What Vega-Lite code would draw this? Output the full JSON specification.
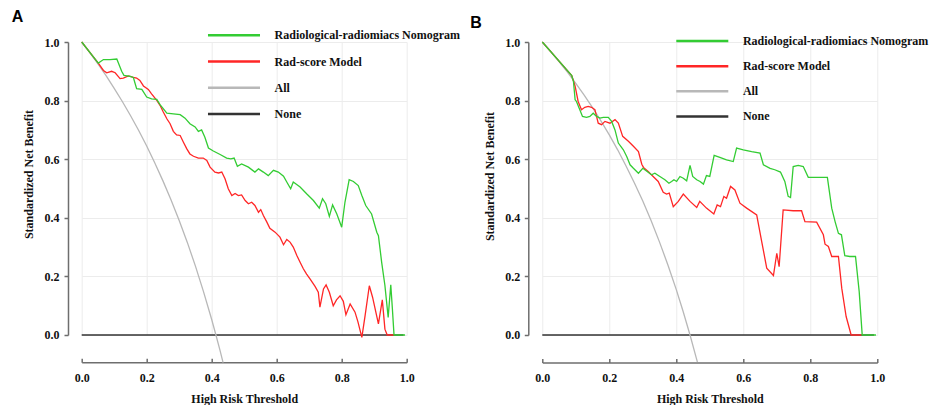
{
  "$schema": "https://vega.github.io/schema/vega-lite/v6.json",
  "padding": {"left": 11.7, "top": 9, "right": 0, "bottom": 0},
  "autosize": {"type": "pad"},
  "background": "white",
  "bounds": "flush",
  "spacing": 135.6,
  "datasets": {
    "a": [
      {"t": 0, "nb": 0, "model": "None"},
      {"t": 0.99, "nb": 0, "model": "None"},
      {"t": 0, "nb": 1, "model": "All"},
      {"t": 0.025, "nb": 0.964, "model": "All"},
      {"t": 0.05, "nb": 0.925, "model": "All"},
      {"t": 0.075, "nb": 0.885, "model": "All"},
      {"t": 0.1, "nb": 0.842, "model": "All"},
      {"t": 0.125, "nb": 0.797, "model": "All"},
      {"t": 0.15, "nb": 0.749, "model": "All"},
      {"t": 0.175, "nb": 0.699, "model": "All"},
      {"t": 0.2, "nb": 0.645, "model": "All"},
      {"t": 0.225, "nb": 0.587, "model": "All"},
      {"t": 0.25, "nb": 0.526, "model": "All"},
      {"t": 0.275, "nb": 0.461, "model": "All"},
      {"t": 0.3, "nb": 0.391, "model": "All"},
      {"t": 0.325, "nb": 0.316, "model": "All"},
      {"t": 0.35, "nb": 0.235, "model": "All"},
      {"t": 0.375, "nb": 0.147, "model": "All"},
      {"t": 0.4, "nb": 0.053, "model": "All"},
      {"t": 0.413, "nb": 0, "model": "All"},
      {"t": 0.425, "nb": -0.05, "model": "All"},
      {"t": 0.435, "nb": -0.094, "model": "All"},
      {"t": 0, "nb": 1, "model": "Rad-score Model"},
      {"t": 0.051, "nb": 0.928, "model": "Rad-score Model"},
      {"t": 0.067, "nb": 0.903, "model": "Rad-score Model"},
      {"t": 0.077, "nb": 0.895, "model": "Rad-score Model"},
      {"t": 0.092, "nb": 0.9, "model": "Rad-score Model"},
      {"t": 0.103, "nb": 0.895, "model": "Rad-score Model"},
      {"t": 0.118, "nb": 0.875, "model": "Rad-score Model"},
      {"t": 0.128, "nb": 0.877, "model": "Rad-score Model"},
      {"t": 0.144, "nb": 0.884, "model": "Rad-score Model"},
      {"t": 0.159, "nb": 0.879, "model": "Rad-score Model"},
      {"t": 0.169, "nb": 0.877, "model": "Rad-score Model"},
      {"t": 0.179, "nb": 0.869, "model": "Rad-score Model"},
      {"t": 0.19, "nb": 0.85, "model": "Rad-score Model"},
      {"t": 0.205, "nb": 0.838, "model": "Rad-score Model"},
      {"t": 0.215, "nb": 0.823, "model": "Rad-score Model"},
      {"t": 0.231, "nb": 0.801, "model": "Rad-score Model"},
      {"t": 0.241, "nb": 0.784, "model": "Rad-score Model"},
      {"t": 0.251, "nb": 0.761, "model": "Rad-score Model"},
      {"t": 0.262, "nb": 0.738, "model": "Rad-score Model"},
      {"t": 0.272, "nb": 0.721, "model": "Rad-score Model"},
      {"t": 0.282, "nb": 0.695, "model": "Rad-score Model"},
      {"t": 0.292, "nb": 0.683, "model": "Rad-score Model"},
      {"t": 0.303, "nb": 0.681, "model": "Rad-score Model"},
      {"t": 0.313, "nb": 0.658, "model": "Rad-score Model"},
      {"t": 0.323, "nb": 0.636, "model": "Rad-score Model"},
      {"t": 0.333, "nb": 0.618, "model": "Rad-score Model"},
      {"t": 0.344, "nb": 0.61, "model": "Rad-score Model"},
      {"t": 0.359, "nb": 0.604, "model": "Rad-score Model"},
      {"t": 0.374, "nb": 0.604, "model": "Rad-score Model"},
      {"t": 0.385, "nb": 0.596, "model": "Rad-score Model"},
      {"t": 0.395, "nb": 0.573, "model": "Rad-score Model"},
      {"t": 0.41, "nb": 0.556, "model": "Rad-score Model"},
      {"t": 0.421, "nb": 0.553, "model": "Rad-score Model"},
      {"t": 0.431, "nb": 0.556, "model": "Rad-score Model"},
      {"t": 0.441, "nb": 0.533, "model": "Rad-score Model"},
      {"t": 0.451, "nb": 0.499, "model": "Rad-score Model"},
      {"t": 0.462, "nb": 0.476, "model": "Rad-score Model"},
      {"t": 0.472, "nb": 0.483, "model": "Rad-score Model"},
      {"t": 0.482, "nb": 0.476, "model": "Rad-score Model"},
      {"t": 0.492, "nb": 0.478, "model": "Rad-score Model"},
      {"t": 0.503, "nb": 0.459, "model": "Rad-score Model"},
      {"t": 0.513, "nb": 0.448, "model": "Rad-score Model"},
      {"t": 0.523, "nb": 0.453, "model": "Rad-score Model"},
      {"t": 0.533, "nb": 0.442, "model": "Rad-score Model"},
      {"t": 0.544, "nb": 0.419, "model": "Rad-score Model"},
      {"t": 0.551, "nb": 0.428, "model": "Rad-score Model"},
      {"t": 0.559, "nb": 0.408, "model": "Rad-score Model"},
      {"t": 0.569, "nb": 0.387, "model": "Rad-score Model"},
      {"t": 0.579, "nb": 0.364, "model": "Rad-score Model"},
      {"t": 0.595, "nb": 0.351, "model": "Rad-score Model"},
      {"t": 0.61, "nb": 0.334, "model": "Rad-score Model"},
      {"t": 0.621, "nb": 0.308, "model": "Rad-score Model"},
      {"t": 0.631, "nb": 0.326, "model": "Rad-score Model"},
      {"t": 0.641, "nb": 0.317, "model": "Rad-score Model"},
      {"t": 0.651, "nb": 0.3, "model": "Rad-score Model"},
      {"t": 0.662, "nb": 0.271, "model": "Rad-score Model"},
      {"t": 0.672, "nb": 0.248, "model": "Rad-score Model"},
      {"t": 0.682, "nb": 0.226, "model": "Rad-score Model"},
      {"t": 0.692, "nb": 0.208, "model": "Rad-score Model"},
      {"t": 0.703, "nb": 0.191, "model": "Rad-score Model"},
      {"t": 0.718, "nb": 0.166, "model": "Rad-score Model"},
      {"t": 0.728, "nb": 0.146, "model": "Rad-score Model"},
      {"t": 0.733, "nb": 0.095, "model": "Rad-score Model"},
      {"t": 0.744, "nb": 0.157, "model": "Rad-score Model"},
      {"t": 0.752, "nb": 0.171, "model": "Rad-score Model"},
      {"t": 0.762, "nb": 0.146, "model": "Rad-score Model"},
      {"t": 0.774, "nb": 0.1, "model": "Rad-score Model"},
      {"t": 0.784, "nb": 0.12, "model": "Rad-score Model"},
      {"t": 0.795, "nb": 0.134, "model": "Rad-score Model"},
      {"t": 0.805, "nb": 0.115, "model": "Rad-score Model"},
      {"t": 0.813, "nb": 0.069, "model": "Rad-score Model"},
      {"t": 0.826, "nb": 0.106, "model": "Rad-score Model"},
      {"t": 0.841, "nb": 0.078, "model": "Rad-score Model"},
      {"t": 0.85, "nb": 0.045, "model": "Rad-score Model"},
      {"t": 0.862, "nb": -0.008, "model": "Rad-score Model"},
      {"t": 0.872, "nb": 0.066, "model": "Rad-score Model"},
      {"t": 0.885, "nb": 0.168, "model": "Rad-score Model"},
      {"t": 0.895, "nb": 0.129, "model": "Rad-score Model"},
      {"t": 0.913, "nb": 0.038, "model": "Rad-score Model"},
      {"t": 0.925, "nb": 0.12, "model": "Rad-score Model"},
      {"t": 0.933, "nb": 0.02, "model": "Rad-score Model"},
      {"t": 0.94, "nb": 0, "model": "Rad-score Model"},
      {"t": 0.962, "nb": 0, "model": "Rad-score Model"},
      {"t": 0, "nb": 1, "model": "Radiological-radiomiacs Nomogram"},
      {"t": 0.051, "nb": 0.928, "model": "Radiological-radiomiacs Nomogram"},
      {"t": 0.067, "nb": 0.94, "model": "Radiological-radiomiacs Nomogram"},
      {"t": 0.087, "nb": 0.94, "model": "Radiological-radiomiacs Nomogram"},
      {"t": 0.108, "nb": 0.942, "model": "Radiological-radiomiacs Nomogram"},
      {"t": 0.123, "nb": 0.9, "model": "Radiological-radiomiacs Nomogram"},
      {"t": 0.13, "nb": 0.886, "model": "Radiological-radiomiacs Nomogram"},
      {"t": 0.149, "nb": 0.883, "model": "Radiological-radiomiacs Nomogram"},
      {"t": 0.159, "nb": 0.879, "model": "Radiological-radiomiacs Nomogram"},
      {"t": 0.169, "nb": 0.841, "model": "Radiological-radiomiacs Nomogram"},
      {"t": 0.185, "nb": 0.838, "model": "Radiological-radiomiacs Nomogram"},
      {"t": 0.2, "nb": 0.812, "model": "Radiological-radiomiacs Nomogram"},
      {"t": 0.215, "nb": 0.806, "model": "Radiological-radiomiacs Nomogram"},
      {"t": 0.231, "nb": 0.804, "model": "Radiological-radiomiacs Nomogram"},
      {"t": 0.241, "nb": 0.786, "model": "Radiological-radiomiacs Nomogram"},
      {"t": 0.262, "nb": 0.757, "model": "Radiological-radiomiacs Nomogram"},
      {"t": 0.282, "nb": 0.755, "model": "Radiological-radiomiacs Nomogram"},
      {"t": 0.303, "nb": 0.752, "model": "Radiological-radiomiacs Nomogram"},
      {"t": 0.318, "nb": 0.74, "model": "Radiological-radiomiacs Nomogram"},
      {"t": 0.333, "nb": 0.721, "model": "Radiological-radiomiacs Nomogram"},
      {"t": 0.349, "nb": 0.71, "model": "Radiological-radiomiacs Nomogram"},
      {"t": 0.359, "nb": 0.695, "model": "Radiological-radiomiacs Nomogram"},
      {"t": 0.369, "nb": 0.7, "model": "Radiological-radiomiacs Nomogram"},
      {"t": 0.379, "nb": 0.675, "model": "Radiological-radiomiacs Nomogram"},
      {"t": 0.39, "nb": 0.638, "model": "Radiological-radiomiacs Nomogram"},
      {"t": 0.405, "nb": 0.628, "model": "Radiological-radiomiacs Nomogram"},
      {"t": 0.426, "nb": 0.616, "model": "Radiological-radiomiacs Nomogram"},
      {"t": 0.446, "nb": 0.604, "model": "Radiological-radiomiacs Nomogram"},
      {"t": 0.459, "nb": 0.601, "model": "Radiological-radiomiacs Nomogram"},
      {"t": 0.469, "nb": 0.604, "model": "Radiological-radiomiacs Nomogram"},
      {"t": 0.479, "nb": 0.576, "model": "Radiological-radiomiacs Nomogram"},
      {"t": 0.492, "nb": 0.584, "model": "Radiological-radiomiacs Nomogram"},
      {"t": 0.513, "nb": 0.573, "model": "Radiological-radiomiacs Nomogram"},
      {"t": 0.533, "nb": 0.556, "model": "Radiological-radiomiacs Nomogram"},
      {"t": 0.544, "nb": 0.567, "model": "Radiological-radiomiacs Nomogram"},
      {"t": 0.559, "nb": 0.556, "model": "Radiological-radiomiacs Nomogram"},
      {"t": 0.574, "nb": 0.544, "model": "Radiological-radiomiacs Nomogram"},
      {"t": 0.59, "nb": 0.562, "model": "Radiological-radiomiacs Nomogram"},
      {"t": 0.605, "nb": 0.556, "model": "Radiological-radiomiacs Nomogram"},
      {"t": 0.621, "nb": 0.542, "model": "Radiological-radiomiacs Nomogram"},
      {"t": 0.631, "nb": 0.522, "model": "Radiological-radiomiacs Nomogram"},
      {"t": 0.643, "nb": 0.499, "model": "Radiological-radiomiacs Nomogram"},
      {"t": 0.651, "nb": 0.522, "model": "Radiological-radiomiacs Nomogram"},
      {"t": 0.672, "nb": 0.505, "model": "Radiological-radiomiacs Nomogram"},
      {"t": 0.692, "nb": 0.482, "model": "Radiological-radiomiacs Nomogram"},
      {"t": 0.713, "nb": 0.459, "model": "Radiological-radiomiacs Nomogram"},
      {"t": 0.731, "nb": 0.433, "model": "Radiological-radiomiacs Nomogram"},
      {"t": 0.741, "nb": 0.465, "model": "Radiological-radiomiacs Nomogram"},
      {"t": 0.751, "nb": 0.448, "model": "Radiological-radiomiacs Nomogram"},
      {"t": 0.762, "nb": 0.405, "model": "Radiological-radiomiacs Nomogram"},
      {"t": 0.772, "nb": 0.444, "model": "Radiological-radiomiacs Nomogram"},
      {"t": 0.785, "nb": 0.413, "model": "Radiological-radiomiacs Nomogram"},
      {"t": 0.8, "nb": 0.368, "model": "Radiological-radiomiacs Nomogram"},
      {"t": 0.81, "nb": 0.453, "model": "Radiological-radiomiacs Nomogram"},
      {"t": 0.823, "nb": 0.53, "model": "Radiological-radiomiacs Nomogram"},
      {"t": 0.836, "nb": 0.524, "model": "Radiological-radiomiacs Nomogram"},
      {"t": 0.851, "nb": 0.51, "model": "Radiological-radiomiacs Nomogram"},
      {"t": 0.862, "nb": 0.476, "model": "Radiological-radiomiacs Nomogram"},
      {"t": 0.874, "nb": 0.442, "model": "Radiological-radiomiacs Nomogram"},
      {"t": 0.892, "nb": 0.413, "model": "Radiological-radiomiacs Nomogram"},
      {"t": 0.908, "nb": 0.351, "model": "Radiological-radiomiacs Nomogram"},
      {"t": 0.913, "nb": 0.339, "model": "Radiological-radiomiacs Nomogram"},
      {"t": 0.923, "nb": 0.248, "model": "Radiological-radiomiacs Nomogram"},
      {"t": 0.933, "nb": 0.169, "model": "Radiological-radiomiacs Nomogram"},
      {"t": 0.943, "nb": 0.06, "model": "Radiological-radiomiacs Nomogram"},
      {"t": 0.951, "nb": 0.171, "model": "Radiological-radiomiacs Nomogram"},
      {"t": 0.956, "nb": 0.089, "model": "Radiological-radiomiacs Nomogram"},
      {"t": 0.961, "nb": 0, "model": "Radiological-radiomiacs Nomogram"},
      {"t": 0.995, "nb": 0, "model": "Radiological-radiomiacs Nomogram"}
    ],
    "b": [
      {"t": 0, "nb": 0, "model": "None"},
      {"t": 0.99, "nb": 0, "model": "None"},
      {"t": 0, "nb": 1, "model": "All"},
      {"t": 0.025, "nb": 0.968, "model": "All"},
      {"t": 0.05, "nb": 0.933, "model": "All"},
      {"t": 0.075, "nb": 0.897, "model": "All"},
      {"t": 0.1, "nb": 0.859, "model": "All"},
      {"t": 0.125, "nb": 0.819, "model": "All"},
      {"t": 0.15, "nb": 0.776, "model": "All"},
      {"t": 0.175, "nb": 0.731, "model": "All"},
      {"t": 0.2, "nb": 0.683, "model": "All"},
      {"t": 0.225, "nb": 0.632, "model": "All"},
      {"t": 0.25, "nb": 0.577, "model": "All"},
      {"t": 0.275, "nb": 0.519, "model": "All"},
      {"t": 0.3, "nb": 0.457, "model": "All"},
      {"t": 0.325, "nb": 0.39, "model": "All"},
      {"t": 0.35, "nb": 0.317, "model": "All"},
      {"t": 0.375, "nb": 0.239, "model": "All"},
      {"t": 0.4, "nb": 0.155, "model": "All"},
      {"t": 0.42, "nb": 0.082, "model": "All"},
      {"t": 0.441, "nb": 0, "model": "All"},
      {"t": 0.46, "nb": -0.08, "model": "All"},
      {"t": 0.463, "nb": -0.092, "model": "All"},
      {"t": 0, "nb": 1, "model": "Rad-score Model"},
      {"t": 0.088, "nb": 0.885, "model": "Rad-score Model"},
      {"t": 0.098, "nb": 0.849, "model": "Rad-score Model"},
      {"t": 0.107, "nb": 0.797, "model": "Rad-score Model"},
      {"t": 0.117, "nb": 0.769, "model": "Rad-score Model"},
      {"t": 0.127, "nb": 0.777, "model": "Rad-score Model"},
      {"t": 0.137, "nb": 0.78, "model": "Rad-score Model"},
      {"t": 0.147, "nb": 0.777, "model": "Rad-score Model"},
      {"t": 0.157, "nb": 0.769, "model": "Rad-score Model"},
      {"t": 0.167, "nb": 0.723, "model": "Rad-score Model"},
      {"t": 0.177, "nb": 0.718, "model": "Rad-score Model"},
      {"t": 0.187, "nb": 0.729, "model": "Rad-score Model"},
      {"t": 0.202, "nb": 0.723, "model": "Rad-score Model"},
      {"t": 0.217, "nb": 0.735, "model": "Rad-score Model"},
      {"t": 0.227, "nb": 0.723, "model": "Rad-score Model"},
      {"t": 0.24, "nb": 0.678, "model": "Rad-score Model"},
      {"t": 0.257, "nb": 0.661, "model": "Rad-score Model"},
      {"t": 0.272, "nb": 0.644, "model": "Rad-score Model"},
      {"t": 0.287, "nb": 0.626, "model": "Rad-score Model"},
      {"t": 0.297, "nb": 0.583, "model": "Rad-score Model"},
      {"t": 0.302, "nb": 0.572, "model": "Rad-score Model"},
      {"t": 0.316, "nb": 0.558, "model": "Rad-score Model"},
      {"t": 0.331, "nb": 0.541, "model": "Rad-score Model"},
      {"t": 0.346, "nb": 0.524, "model": "Rad-score Model"},
      {"t": 0.361, "nb": 0.487, "model": "Rad-score Model"},
      {"t": 0.371, "nb": 0.481, "model": "Rad-score Model"},
      {"t": 0.379, "nb": 0.484, "model": "Rad-score Model"},
      {"t": 0.391, "nb": 0.438, "model": "Rad-score Model"},
      {"t": 0.406, "nb": 0.456, "model": "Rad-score Model"},
      {"t": 0.421, "nb": 0.481, "model": "Rad-score Model"},
      {"t": 0.441, "nb": 0.456, "model": "Rad-score Model"},
      {"t": 0.461, "nb": 0.435, "model": "Rad-score Model"},
      {"t": 0.47, "nb": 0.456, "model": "Rad-score Model"},
      {"t": 0.49, "nb": 0.433, "model": "Rad-score Model"},
      {"t": 0.512, "nb": 0.413, "model": "Rad-score Model"},
      {"t": 0.522, "nb": 0.444, "model": "Rad-score Model"},
      {"t": 0.532, "nb": 0.438, "model": "Rad-score Model"},
      {"t": 0.542, "nb": 0.473, "model": "Rad-score Model"},
      {"t": 0.55, "nb": 0.467, "model": "Rad-score Model"},
      {"t": 0.562, "nb": 0.507, "model": "Rad-score Model"},
      {"t": 0.575, "nb": 0.495, "model": "Rad-score Model"},
      {"t": 0.59, "nb": 0.45, "model": "Rad-score Model"},
      {"t": 0.61, "nb": 0.433, "model": "Rad-score Model"},
      {"t": 0.64, "nb": 0.41, "model": "Rad-score Model"},
      {"t": 0.655, "nb": 0.319, "model": "Rad-score Model"},
      {"t": 0.67, "nb": 0.228, "model": "Rad-score Model"},
      {"t": 0.69, "nb": 0.203, "model": "Rad-score Model"},
      {"t": 0.7, "nb": 0.279, "model": "Rad-score Model"},
      {"t": 0.707, "nb": 0.233, "model": "Rad-score Model"},
      {"t": 0.719, "nb": 0.427, "model": "Rad-score Model"},
      {"t": 0.749, "nb": 0.424, "model": "Rad-score Model"},
      {"t": 0.774, "nb": 0.424, "model": "Rad-score Model"},
      {"t": 0.784, "nb": 0.387, "model": "Rad-score Model"},
      {"t": 0.819, "nb": 0.385, "model": "Rad-score Model"},
      {"t": 0.839, "nb": 0.342, "model": "Rad-score Model"},
      {"t": 0.844, "nb": 0.31, "model": "Rad-score Model"},
      {"t": 0.854, "nb": 0.302, "model": "Rad-score Model"},
      {"t": 0.864, "nb": 0.268, "model": "Rad-score Model"},
      {"t": 0.884, "nb": 0.268, "model": "Rad-score Model"},
      {"t": 0.894, "nb": 0.159, "model": "Rad-score Model"},
      {"t": 0.907, "nb": 0.063, "model": "Rad-score Model"},
      {"t": 0.922, "nb": 0, "model": "Rad-score Model"},
      {"t": 0.953, "nb": 0, "model": "Rad-score Model"},
      {"t": 0, "nb": 1, "model": "Radiological-radiomiacs Nomogram"},
      {"t": 0.088, "nb": 0.885, "model": "Radiological-radiomiacs Nomogram"},
      {"t": 0.093, "nb": 0.866, "model": "Radiological-radiomiacs Nomogram"},
      {"t": 0.098, "nb": 0.803, "model": "Radiological-radiomiacs Nomogram"},
      {"t": 0.102, "nb": 0.797, "model": "Radiological-radiomiacs Nomogram"},
      {"t": 0.112, "nb": 0.769, "model": "Radiological-radiomiacs Nomogram"},
      {"t": 0.12, "nb": 0.746, "model": "Radiological-radiomiacs Nomogram"},
      {"t": 0.132, "nb": 0.743, "model": "Radiological-radiomiacs Nomogram"},
      {"t": 0.142, "nb": 0.746, "model": "Radiological-radiomiacs Nomogram"},
      {"t": 0.152, "nb": 0.757, "model": "Radiological-radiomiacs Nomogram"},
      {"t": 0.162, "nb": 0.746, "model": "Radiological-radiomiacs Nomogram"},
      {"t": 0.172, "nb": 0.74, "model": "Radiological-radiomiacs Nomogram"},
      {"t": 0.182, "nb": 0.743, "model": "Radiological-radiomiacs Nomogram"},
      {"t": 0.197, "nb": 0.743, "model": "Radiological-radiomiacs Nomogram"},
      {"t": 0.207, "nb": 0.729, "model": "Radiological-radiomiacs Nomogram"},
      {"t": 0.217, "nb": 0.7, "model": "Radiological-radiomiacs Nomogram"},
      {"t": 0.227, "nb": 0.655, "model": "Radiological-radiomiacs Nomogram"},
      {"t": 0.242, "nb": 0.632, "model": "Radiological-radiomiacs Nomogram"},
      {"t": 0.252, "nb": 0.609, "model": "Radiological-radiomiacs Nomogram"},
      {"t": 0.262, "nb": 0.581, "model": "Radiological-radiomiacs Nomogram"},
      {"t": 0.272, "nb": 0.569, "model": "Radiological-radiomiacs Nomogram"},
      {"t": 0.287, "nb": 0.552, "model": "Radiological-radiomiacs Nomogram"},
      {"t": 0.3, "nb": 0.569, "model": "Radiological-radiomiacs Nomogram"},
      {"t": 0.311, "nb": 0.56, "model": "Radiological-radiomiacs Nomogram"},
      {"t": 0.326, "nb": 0.547, "model": "Radiological-radiomiacs Nomogram"},
      {"t": 0.336, "nb": 0.552, "model": "Radiological-radiomiacs Nomogram"},
      {"t": 0.351, "nb": 0.541, "model": "Radiological-radiomiacs Nomogram"},
      {"t": 0.366, "nb": 0.53, "model": "Radiological-radiomiacs Nomogram"},
      {"t": 0.378, "nb": 0.518, "model": "Radiological-radiomiacs Nomogram"},
      {"t": 0.386, "nb": 0.524, "model": "Radiological-radiomiacs Nomogram"},
      {"t": 0.393, "nb": 0.53, "model": "Radiological-radiomiacs Nomogram"},
      {"t": 0.401, "nb": 0.524, "model": "Radiological-radiomiacs Nomogram"},
      {"t": 0.411, "nb": 0.541, "model": "Radiological-radiomiacs Nomogram"},
      {"t": 0.421, "nb": 0.535, "model": "Radiological-radiomiacs Nomogram"},
      {"t": 0.431, "nb": 0.526, "model": "Radiological-radiomiacs Nomogram"},
      {"t": 0.441, "nb": 0.579, "model": "Radiological-radiomiacs Nomogram"},
      {"t": 0.449, "nb": 0.541, "model": "Radiological-radiomiacs Nomogram"},
      {"t": 0.461, "nb": 0.53, "model": "Radiological-radiomiacs Nomogram"},
      {"t": 0.471, "nb": 0.524, "model": "Radiological-radiomiacs Nomogram"},
      {"t": 0.481, "nb": 0.515, "model": "Radiological-radiomiacs Nomogram"},
      {"t": 0.49, "nb": 0.544, "model": "Radiological-radiomiacs Nomogram"},
      {"t": 0.5, "nb": 0.541, "model": "Radiological-radiomiacs Nomogram"},
      {"t": 0.513, "nb": 0.613, "model": "Radiological-radiomiacs Nomogram"},
      {"t": 0.53, "nb": 0.606, "model": "Radiological-radiomiacs Nomogram"},
      {"t": 0.55, "nb": 0.598, "model": "Radiological-radiomiacs Nomogram"},
      {"t": 0.57, "nb": 0.592, "model": "Radiological-radiomiacs Nomogram"},
      {"t": 0.58, "nb": 0.638, "model": "Radiological-radiomiacs Nomogram"},
      {"t": 0.6, "nb": 0.632, "model": "Radiological-radiomiacs Nomogram"},
      {"t": 0.625, "nb": 0.626, "model": "Radiological-radiomiacs Nomogram"},
      {"t": 0.65, "nb": 0.621, "model": "Radiological-radiomiacs Nomogram"},
      {"t": 0.66, "nb": 0.581, "model": "Radiological-radiomiacs Nomogram"},
      {"t": 0.68, "nb": 0.569, "model": "Radiological-radiomiacs Nomogram"},
      {"t": 0.694, "nb": 0.564, "model": "Radiological-radiomiacs Nomogram"},
      {"t": 0.711, "nb": 0.556, "model": "Radiological-radiomiacs Nomogram"},
      {"t": 0.724, "nb": 0.524, "model": "Radiological-radiomiacs Nomogram"},
      {"t": 0.734, "nb": 0.473, "model": "Radiological-radiomiacs Nomogram"},
      {"t": 0.741, "nb": 0.469, "model": "Radiological-radiomiacs Nomogram"},
      {"t": 0.749, "nb": 0.575, "model": "Radiological-radiomiacs Nomogram"},
      {"t": 0.764, "nb": 0.579, "model": "Radiological-radiomiacs Nomogram"},
      {"t": 0.779, "nb": 0.575, "model": "Radiological-radiomiacs Nomogram"},
      {"t": 0.794, "nb": 0.538, "model": "Radiological-radiomiacs Nomogram"},
      {"t": 0.819, "nb": 0.538, "model": "Radiological-radiomiacs Nomogram"},
      {"t": 0.851, "nb": 0.538, "model": "Radiological-radiomiacs Nomogram"},
      {"t": 0.864, "nb": 0.433, "model": "Radiological-radiomiacs Nomogram"},
      {"t": 0.874, "nb": 0.387, "model": "Radiological-radiomiacs Nomogram"},
      {"t": 0.884, "nb": 0.347, "model": "Radiological-radiomiacs Nomogram"},
      {"t": 0.893, "nb": 0.342, "model": "Radiological-radiomiacs Nomogram"},
      {"t": 0.903, "nb": 0.271, "model": "Radiological-radiomiacs Nomogram"},
      {"t": 0.918, "nb": 0.268, "model": "Radiological-radiomiacs Nomogram"},
      {"t": 0.935, "nb": 0.268, "model": "Radiological-radiomiacs Nomogram"},
      {"t": 0.946, "nb": 0.148, "model": "Radiological-radiomiacs Nomogram"},
      {"t": 0.955, "nb": 0, "model": "Radiological-radiomiacs Nomogram"},
      {"t": 0.996, "nb": 0, "model": "Radiological-radiomiacs Nomogram"}
    ]
  },
  "hconcat": [
    {
      "width": 325,
      "height": 293,
      "title": {"text": "A", "anchor": "start", "frame": "group", "dx": -70, "dy": 2, "offset": 0},
      "data": {"name": "a"},
      "mark": {"type": "line", "strokeWidth": 1.3, "clip": false},
      "encoding": {
        "x": {"field": "t", "type": "quantitative", "scale": {"domain": [0, 1], "nice": false},
          "axis": {"title": "High Risk Threshold", "values": [0, 0.2, 0.4, 0.6, 0.8, 1.0], "offset": 27.3, "tickSize": -4, "labelPadding": 14, "titlePadding": 10}},
        "y": {"field": "nb", "type": "quantitative", "scale": {"domain": [0, 1], "nice": false},
          "axis": {"title": "Standardized Net Benefit", "values": [0, 0.2, 0.4, 0.6, 0.8, 1.0], "offset": 13.7, "tickSize": 4, "labelPadding": 5, "titlePadding": 8, "titleY": 132}},
        "color": {"field": "model", "type": "nominal",
          "scale": {"domain": ["Radiological-radiomiacs Nomogram", "Rad-score Model", "All", "None"], "range": ["#33cc33", "#ff2626", "#b8b8b8", "#333333"]},
          "legend": {"orient": "none", "legendX": 140.3, "legendY": -18.7, "title": null, "symbolType": "M-2.5,0H2.5", "symbolSize": 433, "symbolStrokeWidth": 2.5, "labelOffset": 28.6, "rowPadding": 8.2, "padding": 0, "labelLimit": 400}}
      }
    },
    {
      "width": 335,
      "height": 293,
      "title": {"text": "B", "anchor": "start", "frame": "group", "dx": -72, "dy": 2, "offset": 0},
      "data": {"name": "b"},
      "mark": {"type": "line", "strokeWidth": 1.3, "clip": false},
      "encoding": {
        "x": {"field": "t", "type": "quantitative", "scale": {"domain": [0, 1], "nice": false},
          "axis": {"title": "High Risk Threshold", "values": [0, 0.2, 0.4, 0.6, 0.8, 1.0], "offset": 27.4, "tickSize": -4, "labelPadding": 14, "titlePadding": 10}},
        "y": {"field": "nb", "type": "quantitative", "scale": {"domain": [0, 1], "nice": false},
          "axis": {"title": "Standardized Net Benefit", "values": [0, 0.2, 0.4, 0.6, 0.8, 1.0], "offset": 14, "tickSize": 4, "labelPadding": 4.5, "titlePadding": 8, "titleY": 134}},
        "color": {"field": "model", "type": "nominal",
          "scale": {"domain": ["Radiological-radiomiacs Nomogram", "Rad-score Model", "All", "None"], "range": ["#33cc33", "#ff2626", "#b8b8b8", "#333333"]},
          "legend": {"orient": "none", "legendX": 148, "legendY": -12.9, "title": null, "symbolType": "M-2.5,0H2.5", "symbolSize": 433, "symbolStrokeWidth": 2.5, "labelOffset": 28.6, "rowPadding": 7.1, "padding": 0, "labelLimit": 400}}
      }
    }
  ],
  "resolve": {"scale": {"color": "independent"}, "legend": {"color": "independent"}},
  "config": {
    "view": {"stroke": null},
    "title": {"font": "Liberation Sans", "fontSize": 16, "fontWeight": "bold", "color": "#000000"},
    "axis": {
      "format": ".1f",
      "labelFont": "Liberation Serif", "labelFontWeight": "bold", "labelFontSize": 12, "labelColor": "#111111",
      "titleFont": "Liberation Serif", "titleFontWeight": "bold", "titleFontSize": 12, "titleColor": "#111111",
      "domainColor": "#6e6e6e", "domainWidth": 1.5, "tickColor": "#6e6e6e", "tickWidth": 1.5,
      "grid": true, "gridColor": "#ececec", "gridWidth": 1, "labelFlush": false
    },
    "legend": {"labelFont": "Liberation Serif", "labelFontWeight": "bold", "labelFontSize": 12, "labelColor": "#111111"}
  }
}
